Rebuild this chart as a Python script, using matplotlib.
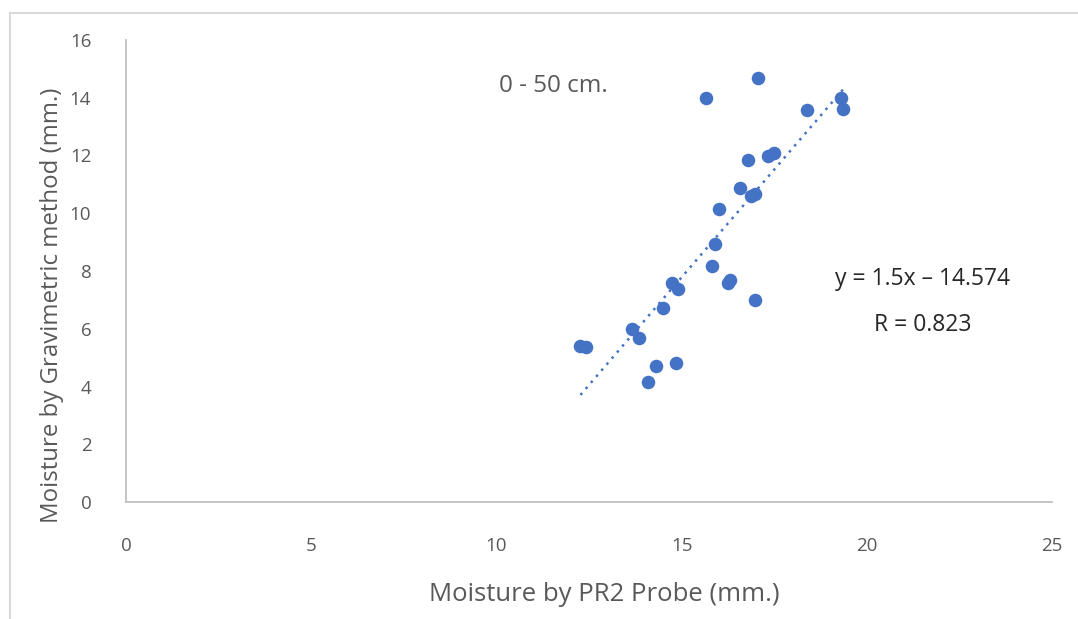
import numpy as np
import matplotlib
matplotlib.use("Agg")
import matplotlib.pyplot as plt
from matplotlib.lines import Line2D

# Data
pr2_probe = [12.27, 12.43, 13.65, 13.84, 14.08, 14.32, 14.49, 14.73, 14.90,
             14.86, 15.65, 15.81, 15.89, 16.02, 16.24, 16.32, 16.57, 16.78,
             16.88, 16.97, 16.98, 17.05, 17.32, 17.50, 18.38, 19.30, 19.37]
gravimetric = [5.39, 5.36, 6.00, 5.69, 4.15, 4.72, 6.73, 7.60, 7.36,
               4.82, 13.99, 8.19, 8.94, 10.16, 7.58, 7.70, 10.88, 11.84,
               10.60, 10.66, 6.99, 14.70, 12.00, 12.07, 13.58, 14.00, 13.61]
x_ticks = [0, 5, 10, 15, 20, 25]
y_ticks = [0, 2, 4, 6, 8, 10, 12, 14, 16]
depth_label = "0 - 50 cm."
equation_label = "y = 1.5x \u2013 14.574"
r_label = "R = 0.823"

plt.rcParams['font.family'] = ['Open Sans', 'DejaVu Sans']
text_color = "#595959"
grid_color = "#BFBFBF"
blue = "#4472C4"

fig = plt.figure(figsize=(10.78, 6.19), dpi=100)
W, H = 1078, 619
ax = fig.add_axes([126 / W, 1 - 502 / H, (1052 - 126) / W, (502 - 40) / H])

ax.scatter(pr2_probe, gravimetric, s=95, color=blue, zorder=3, linewidths=0)

# linear trendline
coef = np.polyfit(pr2_probe, gravimetric, 1)
xs = np.array([min(pr2_probe), max(pr2_probe)])
ax.plot(xs, np.polyval(coef, xs), linestyle=(0, (1, 2.2)), color=blue,
        linewidth=1.8, zorder=2)

ax.set_xlim(0, 25)
ax.set_ylim(0, 16)
ax.set_xticks(x_ticks)
ax.set_yticks(y_ticks)
ax.tick_params(axis='both', length=0, labelsize=13.5, colors=text_color)
ax.tick_params(axis='x', pad=25)
ax.tick_params(axis='y', pad=25)
for s in ['top', 'right']:
    ax.spines[s].set_visible(False)
for s in ['left', 'bottom']:
    ax.spines[s].set_color(grid_color)
    ax.spines[s].set_linewidth(1.3)

ax.set_xlabel("Moisture by PR2 Probe (mm.)", fontsize=18.5, color=text_color)
ax.xaxis.set_label_coords(0.517, -0.173)
ax.set_ylabel("Moisture by Gravimetric method (mm.)", fontsize=17.3,
              color=text_color)
ax.yaxis.set_label_coords(-0.067, 0.426)

ax.text(11.54, 14.41, depth_label, fontsize=17.5, color=text_color,
        ha='center', va='center')
ax.text(21.5, 7.74, equation_label, fontsize=16.5, color="#262626",
        ha='center', va='center')
ax.text(21.5, 6.12, r_label, fontsize=16.5, color="#262626",
        ha='center', va='center')

# outer chart frame (top and left only visible)
fig.add_artist(Line2D([10 / W, 1.0], [1 - 13 / H, 1 - 13 / H],
                      transform=fig.transFigure, color="#D9D9D9", linewidth=1.5))
fig.add_artist(Line2D([10 / W, 10 / W], [0, 1 - 13 / H],
                      transform=fig.transFigure, color="#D9D9D9", linewidth=1.5))

fig.savefig("out.png", dpi=100)
